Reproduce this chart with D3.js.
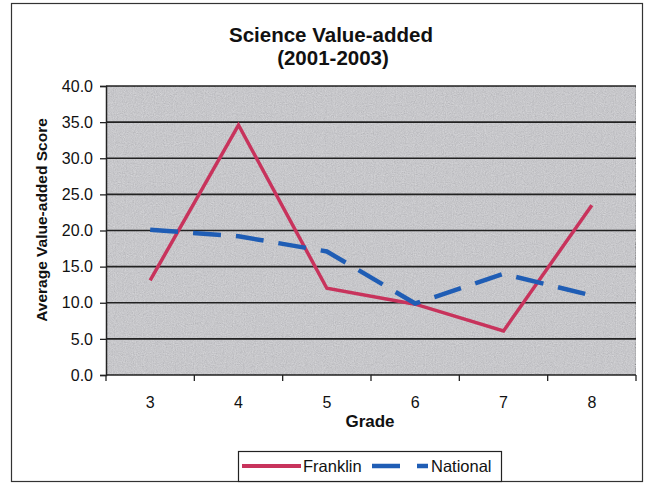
<!DOCTYPE html>
<html>
<head>
<meta charset="utf-8">
<script src="https://cdn.jsdelivr.net/npm/d3@7"></script>
<style>
  html, body { margin: 0; padding: 0; background: #fff; }
  svg { display: block; }
  text { font-family: Arial, "Liberation Sans", sans-serif; fill: #111; }
</style>
</head>
<body>
<svg id="chart" width="652" height="483"></svg>
<script>
// Grades along the x axis
const grades = ["3", "4", "5", "6", "7", "8"];
// Average value-added score per grade
const franklin = [13.1, 34.6, 12.0, 9.8, 6.1, 23.5];
const national = [20.1, 19.2, 17.1, 9.9, 14.0, 11.0];
// Y axis tick values
const yTicks = [0, 5, 10, 15, 20, 25, 30, 35, 40];
const seriesNames = ["Franklin", "National"];
const seriesColors = ["#c8335c", "#1f5db5"];

const svg = d3.select("#chart");
const plot = { left: 106, right: 636, top: 86, bottom: 375 };

// outer chart frame
svg.append("rect")
  .attr("x", 11.5).attr("y", 3.5).attr("width", 631).attr("height", 478)
  .attr("fill", "#fff").attr("stroke", "#333").attr("stroke-width", 1.2);

// title
svg.append("text").attr("x", 331).attr("y", 42).attr("text-anchor", "middle")
  .style("font-size", "20.5px").style("font-weight", "bold").text("Science Value-added");
svg.append("text").attr("x", 333).attr("y", 65).attr("text-anchor", "middle")
  .style("font-size", "20.5px").style("font-weight", "bold").text("(2001-2003)");

const x = d3.scaleBand().domain(grades).range([plot.left, plot.right]);
const y = d3.scaleLinear().domain([0, 40]).range([plot.bottom, plot.top]);

// plot area background with a fine grain
const defs = svg.append("defs");
const filt = defs.append("filter").attr("id", "grain").attr("x", 0).attr("y", 0).attr("width", 1).attr("height", 1);
filt.append("feTurbulence").attr("type", "fractalNoise").attr("baseFrequency", 0.9).attr("numOctaves", 2).attr("seed", 3).attr("result", "noise");
filt.append("feColorMatrix").attr("in", "noise").attr("type", "matrix")
  .attr("values", "0 0 0 0 0.68  0 0 0 0 0.68  0 0 0 0 0.70  0.7 0.7 0.7 0 -0.6").attr("result", "n2");
filt.append("feComposite").attr("in", "n2").attr("in2", "SourceGraphic").attr("operator", "over");

svg.append("rect")
  .attr("x", plot.left).attr("y", plot.top)
  .attr("width", plot.right - plot.left).attr("height", plot.bottom - plot.top)
  .attr("fill", "#b8b8bc").attr("stroke", "#555").attr("stroke-width", 1)
  .attr("filter", "url(#grain)");

// horizontal gridlines
svg.append("g").selectAll("line").data(yTicks.filter(d => d > 0)).join("line")
  .attr("x1", plot.left).attr("x2", plot.right)
  .attr("y1", d => y(d)).attr("y2", d => y(d))
  .attr("stroke", "#222").attr("stroke-width", 1.6);

// y axis
const yAxis = svg.append("g").attr("transform", `translate(${plot.left},0)`)
  .call(d3.axisLeft(y).tickValues(yTicks).tickFormat(d3.format(".1f")).tickSize(6).tickPadding(7));
yAxis.select(".domain").attr("stroke", "#222").attr("stroke-width", 1.5);
yAxis.selectAll(".tick line").attr("stroke", "#222").attr("stroke-width", 1.3);
yAxis.selectAll("text").style("font-size", "16px").attr("fill", "#111");

// x axis: ticks sit between categories
const xAxisG = svg.append("g").attr("transform", `translate(0,${plot.bottom})`);
xAxisG.append("line").attr("x1", plot.left).attr("x2", plot.right)
  .attr("stroke", "#222").attr("stroke-width", 1.5);
const bounds = grades.map(g => x(g)).concat([plot.right]);
xAxisG.selectAll("line.tk").data(bounds).join("line").attr("class", "tk")
  .attr("x1", d => d).attr("x2", d => d).attr("y1", 0).attr("y2", 6)
  .attr("stroke", "#222").attr("stroke-width", 1.3);
xAxisG.selectAll("text").data(grades).join("text")
  .attr("x", d => x(d) + x.bandwidth() / 2).attr("y", 33)
  .attr("text-anchor", "middle").style("font-size", "16px").text(d => d);

// axis titles
svg.append("text").attr("x", 370).attr("y", 427).attr("text-anchor", "middle")
  .style("font-size", "17px").style("font-weight", "bold").text("Grade");
svg.append("text").attr("transform", "translate(47,220) rotate(-90)")
  .attr("text-anchor", "middle").style("font-size", "15.5px").style("font-weight", "bold")
  .text("Average Value-added Score");

// series lines
const line = d3.line().x((d, i) => x(grades[i]) + x.bandwidth() / 2).y(d => y(d));
svg.append("path").datum(franklin).attr("d", line)
  .attr("fill", "none").attr("stroke", seriesColors[0]).attr("stroke-width", 3.5)
  .attr("stroke-linejoin", "miter");
svg.append("path").datum(national).attr("d", line)
  .attr("fill", "none").attr("stroke", seriesColors[1]).attr("stroke-width", 4.5)
  .attr("stroke-dasharray", "28,15");

// legend
const lg = svg.append("g");
lg.append("rect").attr("x", 238.5).attr("y", 451.5).attr("width", 263).attr("height", 30)
  .attr("fill", "#fff").attr("stroke", "#222").attr("stroke-width", 1.2);
lg.append("line").attr("x1", 242).attr("x2", 301).attr("y1", 466).attr("y2", 466)
  .attr("stroke", seriesColors[0]).attr("stroke-width", 4);
lg.append("text").attr("x", 303).attr("y", 472).style("font-size", "16.5px").text(seriesNames[0]);
lg.append("line").attr("x1", 372).attr("x2", 428).attr("y1", 466).attr("y2", 466)
  .attr("stroke", seriesColors[1]).attr("stroke-width", 4.5).attr("stroke-dasharray", "28,17");
lg.append("text").attr("x", 431).attr("y", 472).style("font-size", "16.5px").text(seriesNames[1]);
</script>
</body>
</html>
